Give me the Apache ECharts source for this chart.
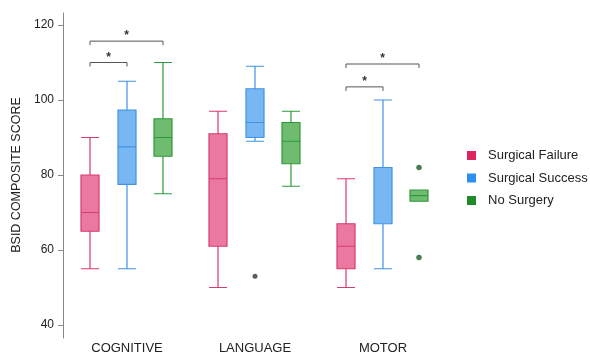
<!DOCTYPE html>
<html>
<head>
<meta charset="utf-8">
<script src="https://cdn.jsdelivr.net/npm/echarts@6/dist/echarts.min.js"></script>
<style>
  html, body { margin: 0; padding: 0; background: #ffffff; }
  #chart { width: 590px; height: 357px; }
</style>
</head>
<body>
<div id="chart"></div>
<script>
// Domains on the x axis
const categories = ['COGNITIVE', 'LANGUAGE', 'MOTOR'];
const groupNames = ['Surgical Failure', 'Surgical Success', 'No Surgery'];

// Box statistics per domain: [min, Q1, median, Q3, max]
const surgicalFailure = [
  [55, 65, 70, 80, 90],
  [50, 61, 79, 91, 97],
  [50, 55, 61, 67, 79]
];
const surgicalSuccess = [
  [55, 77.5, 87.5, 97.3, 105],
  [89, 90, 94, 103, 109],
  [55, 67, 67, 82, 100]
];
const noSurgery = [
  [75, 85, 90, 95, 110],
  [77, 83, 89, 94, 97],
  [73, 73, 74.5, 76, 76]
];

// Outliers: [category index, value]
const successOutliers = [[1, 53]];
const noSurgeryOutliers = [[2, 82], [2, 58]];

// Significance brackets: [category index, from group, to group, y value]
const brackets = [
  [0, 0, 1, 110],
  [0, 0, 2, 115.7],
  [2, 0, 1, 103.5],
  [2, 0, 2, 109.6]
];

const yTicks = { min: 40, max: 120, interval: 20 };

// Horizontal pixel shift of each group inside a category band
const OFFSET = [-37, 0, 36];
const BASE = { left: 63, right: 143, top: 25, bottom: 32 };
const FONT = 'Liberation Sans, Arial, sans-serif';

const fills = ['rgba(232, 96, 143, 0.85)', 'rgba(98, 170, 240, 0.85)', 'rgba(86, 176, 88, 0.85)'];
const strokes = ['#d83a72', '#3f93e6', '#2f9a3a'];
const legendColors = ['#e0245e', '#2e8ff0', '#1f8a2a'];

const chart = echarts.init(document.getElementById('chart'), null, { renderer: 'canvas' });

const grids = OFFSET.map(d => ({
  left: BASE.left + d, right: BASE.right - d, top: BASE.top, bottom: BASE.bottom
}));
// Extra grid that only carries the longer vertical axis line
grids.push({ left: BASE.left, right: BASE.right, top: 13, bottom: 19 });

const xAxes = OFFSET.map((d, i) => ({
  type: 'category',
  gridIndex: i,
  data: categories,
  axisLine: { show: false },
  axisTick: { show: false },
  axisLabel: {
    show: i === 1,
    margin: 17,
    fontFamily: FONT,
    fontSize: 13,
    color: '#222'
  },
  splitLine: { show: false }
}));
xAxes.push({ type: 'category', gridIndex: 3, data: categories, show: false });

const yAxes = OFFSET.map((d, i) => ({
  type: 'value',
  gridIndex: i,
  min: yTicks.min,
  max: yTicks.max,
  interval: yTicks.interval,
  show: i === 1,
  name: i === 1 ? 'BSID COMPOSITE SCORE' : '',
  nameLocation: 'middle',
  nameGap: 36,
  nameTextStyle: { fontFamily: FONT, fontSize: 12.5, color: '#222' },
  axisLine: { show: false },
  axisTick: { show: true, length: 5, lineStyle: { color: '#888' } },
  axisLabel: {
    margin: 9,
    fontFamily: FONT,
    fontSize: 12,
    color: '#222'
  },
  splitLine: { show: false }
}));
yAxes.push({
  type: 'value', gridIndex: 3, min: 0, max: 1,
  axisLine: { show: true, lineStyle: { color: '#888', width: 1 } },
  axisTick: { show: false }, axisLabel: { show: false }, splitLine: { show: false }
});

const boxData = [surgicalFailure, surgicalSuccess, noSurgery];
const series = boxData.map((data, i) => ({
  name: groupNames[i],
  type: 'boxplot',
  xAxisIndex: i,
  yAxisIndex: i,
  boxWidth: [18, 18],
  itemStyle: { color: fills[i], borderColor: strokes[i], borderWidth: 1.2 },
  emphasis: { disabled: true },
  data: data
}));

series.push({
  type: 'scatter', xAxisIndex: 1, yAxisIndex: 1, symbol: 'circle', symbolSize: 5,
  itemStyle: { color: '#333' }, data: successOutliers, silent: true
});
series.push({
  type: 'scatter', xAxisIndex: 2, yAxisIndex: 2, symbol: 'circle', symbolSize: 5.5,
  itemStyle: { color: '#1d5a26' }, data: noSurgeryOutliers, silent: true
});

series.push({
  type: 'custom',
  xAxisIndex: 1,
  yAxisIndex: 1,
  silent: true,
  data: brackets,
  renderItem: function (params, api) {
    const p = api.coord([api.value(0), api.value(3)]);
    const x1 = p[0] + OFFSET[api.value(1)];
    const x2 = p[0] + OFFSET[api.value(2)];
    const y = p[1];
    return {
      type: 'group',
      children: [
        {
          type: 'polyline',
          shape: { points: [[x1, y + 4], [x1, y], [x2, y], [x2, y + 4]] },
          style: { stroke: '#555', lineWidth: 1, fill: null }
        },
        {
          type: 'text',
          style: {
            text: '*', x: (x1 + x2) / 2, y: y - 5,
            textAlign: 'center', textVerticalAlign: 'middle',
            font: 'bold 12px Liberation Sans, Arial, sans-serif', fill: '#333'
          }
        }
      ]
    };
  }
});

chart.setOption({
  animation: false,
  backgroundColor: '#ffffff',
  grid: grids,
  xAxis: xAxes,
  yAxis: yAxes,
  legend: {
    data: groupNames.map((n, i) => ({ name: n, itemStyle: { color: legendColors[i], borderWidth: 0 } })),
    orient: 'vertical',
    left: 462,
    top: 144,
    icon: 'rect',
    itemWidth: 9,
    itemHeight: 9,
    itemGap: 9.5,
    selectedMode: false,
    textStyle: { fontFamily: FONT, fontSize: 13, color: '#222', padding: [0, 0, 0, 7] }
  },
  series: series
});
</script>
</body>
</html>
